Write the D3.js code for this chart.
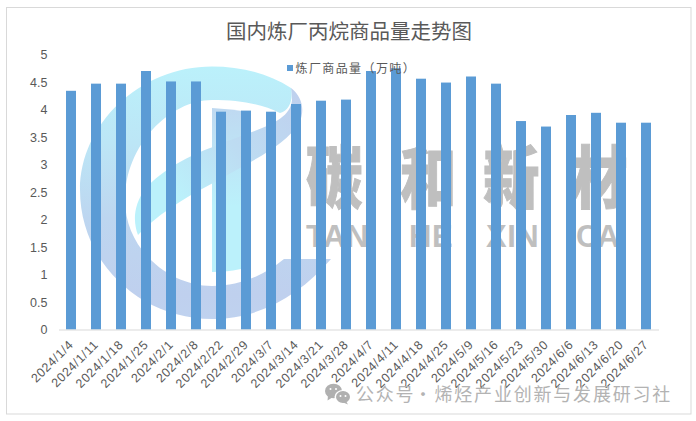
<!DOCTYPE html>
<html><head><meta charset="utf-8">
<script src="https://cdn.jsdelivr.net/npm/d3@7"></script>
<style>
html,body{margin:0;padding:0;background:#fff}
svg{display:block}
text{font-family:"Liberation Sans",Arial,sans-serif}
.cjk{font-family:"Noto Sans CJK SC","Noto Sans",sans-serif}
</style></head><body><div id="c"></div>
<script>
const titleText="国内炼厂丙烷商品量走势图";
const seriesName="炼厂商品量（万吨）";
const dates=["2024/1/4","2024/1/11","2024/1/18","2024/1/25","2024/2/1","2024/2/8","2024/2/22","2024/2/29","2024/3/7","2024/3/14","2024/3/21","2024/3/28","2024/4/7","2024/4/11","2024/4/18","2024/4/25","2024/5/9","2024/5/16","2024/5/23","2024/5/30","2024/6/6","2024/6/13","2024/6/20","2024/6/27"];
const output=[4.34,4.47,4.47,4.7,4.51,4.51,3.96,3.98,3.96,4.1,4.16,4.18,4.7,4.75,4.56,4.49,4.6,4.47,3.79,3.69,3.9,3.94,3.76,3.76];
const yTicks=[0,0.5,1,1.5,2,2.5,3,3.5,4,4.5,5];
const wmChars=["碳","和","新","材"];
const wmLatin=["TAN","HE","XIN","CAI"];
const footerParts=["公众号","·","烯烃产业创新与发展研习社"];

const W=696,H=421;
const svg=d3.select("#c").append("svg").attr("width",W).attr("height",H);
svg.append("rect").attr("x",6.5).attr("y",7.5).attr("width",684.5).attr("height",406.5).attr("fill","#fff").attr("stroke","#d9d9d9").attr("stroke-width",1);

const x=d3.scaleBand().domain(dates).range([58.5,658.5]).paddingInner(0.6).paddingOuter(0.3);
const y=d3.scaleLinear().domain([0,5]).range([329.5,54.5]);

// watermark logo
const defs=svg.append("defs");
function grad(id,x1,y1,x2,y2,stops){const g=defs.append("linearGradient").attr("id",id).attr("gradientUnits","userSpaceOnUse").attr("x1",x1).attr("y1",y1).attr("x2",x2).attr("y2",y2);stops.forEach(s=>g.append("stop").attr("offset",s[0]).attr("stop-color",s[1]));}
grad("gA",215,66,215,320,[[0,"#bbf1fb"],[0.3,"#bce6f6"],[0.6,"#bdd6f0"],[0.9,"#bfd0ee"],[1,"#bfd2ef"]]);
grad("gR",300,90,140,235,[[0,"#bfd0ee"],[0.4,"#bddcf2"],[0.75,"#bbf1fb"],[1,"#bbf1fb"]]);
grad("gV",0,108,0,272,[[0,"#bfd9f1"],[0.6,"#bbf1fb"],[1,"#bbf1fb"]]);
const logo=svg.append("g");
logo.append("path").attr("fill","url(#gV)").attr("d","M212 108 L212 272 Q235 272 250 266 L250 112 Q230 109 212 108Z");
logo.append("path").attr("fill","url(#gR)").attr("d","M291 88 C303 97 305 112 299 123 C285 146 255 159 213 183 C180 200 155 217 138 235 C133 222 133 205 146 188 C162 170 190 155 213 147 C250 130 290 125 292 100Z");
logo.append("path").attr("fill","url(#gA)").attr("d","M291 88 C268 73 240 66.500 212 66.500 C140 66.500 80 124 80 190 C80 262 140 319 212 319 C260 319 300 295 331 259 L284 259 C265 275 240 286 212 286 C170 286 125 250 125 200 C125 145 170 100 212 100 C240 100 262 104 280 113 C290 110 293 100 291 88Z");

// watermark text
const wmX=[306,400,483,571],wmLX=[306,409,486,576],wmLS=[0.5,0.5,0.5,-1.5];
svg.append("g").selectAll("text").data(wmChars).join("text").attr("class","cjk")
 .attr("transform",(d,i)=>`translate(${wmX[i]},203) scale(0.83,1)`)
 .attr("font-size",68).attr("font-weight",900).attr("fill","#bfbfbf").attr("stroke","#bfbfbf").attr("stroke-width",1).text(d=>d);
svg.append("g").selectAll("text").data(wmLatin).join("text")
 .attr("x",(d,i)=>wmLX[i]).attr("y",247).attr("font-size",31).attr("font-weight",700).attr("letter-spacing",(d,i)=>wmLS[i]).attr("fill","#bfbfbf").text(d=>d);

// bars
svg.append("g").selectAll("rect").data(dates).join("rect")
 .attr("x",d=>x(d)).attr("width",x.bandwidth())
 .attr("y",(d,i)=>y(output[i])).attr("height",(d,i)=>y(0)-y(output[i]))
 .attr("fill","#5b9bd5");

// axes
const gy=svg.append("g").attr("transform","translate(58.5,0)").call(d3.axisLeft(y).tickValues(yTicks).tickSize(0).tickPadding(11).tickFormat(d3.format("~g")));
gy.select(".domain").remove();
gy.selectAll("text").attr("font-size",12.5).attr("fill","#595959").attr("font-family","Liberation Sans");
const gx=svg.append("g").attr("transform","translate(0,329.5)").call(d3.axisBottom(x).tickSize(0).tickFormat(d=>d));
gx.select(".domain").attr("stroke","#d9d9d9").attr("stroke-width",1);
gx.selectAll("text").attr("text-anchor","end").attr("font-size",12.5).attr("letter-spacing",0.6).attr("fill","#595959").attr("font-family","Liberation Sans")
 .attr("dx",0).attr("dy",0).attr("y",0).attr("x",0)
 .attr("transform","translate(3,16) rotate(-45)");

// title
svg.append("text").attr("class","cjk").attr("x",349).attr("y",39).attr("text-anchor","middle").attr("font-size",20.5).attr("fill","#595959").text(titleText);

// legend
const lg=svg.append("g");
lg.append("rect").attr("x",287).attr("y",65).attr("width",6).attr("height",6).attr("fill","#5b9bd5");
lg.append("text").attr("class","cjk").attr("x",295.500).attr("y",73).attr("font-size",12).attr("letter-spacing",1.4).attr("fill","#595959").text(seriesName);

// footer watermark
const wc=svg.append("g").attr("fill","#b0b0b0");
wc.append("ellipse").attr("cx",333.500).attr("cy",391).attr("rx",8.500).attr("ry",7.300);
wc.append("path").attr("d","M328 396 L327.500 400.500 L333 397Z");
wc.append("ellipse").attr("cx",343).attr("cy",397).attr("rx",8.500).attr("ry",7).attr("fill","#fff");
wc.append("ellipse").attr("cx",343).attr("cy",397).attr("rx",7).attr("ry",5.900);
wc.append("path").attr("d","M346 401 L348 404.500 L342 402Z");
[[330.500,389],[336,389],[340.500,396],[345.500,396]].forEach(p=>wc.append("circle").attr("cx",p[0]).attr("cy",p[1]).attr("r",1).attr("fill","#fff"));
const footerX=[356,414,434.500];
svg.append("text").attr("class","cjk").attr("y",400.500).attr("font-size",18).attr("letter-spacing",1.8).attr("fill","#b3b3b3")
 .selectAll("tspan").data(footerParts).join("tspan").attr("x",(d,i)=>footerX[i]).text(d=>d);
</script></body></html>
